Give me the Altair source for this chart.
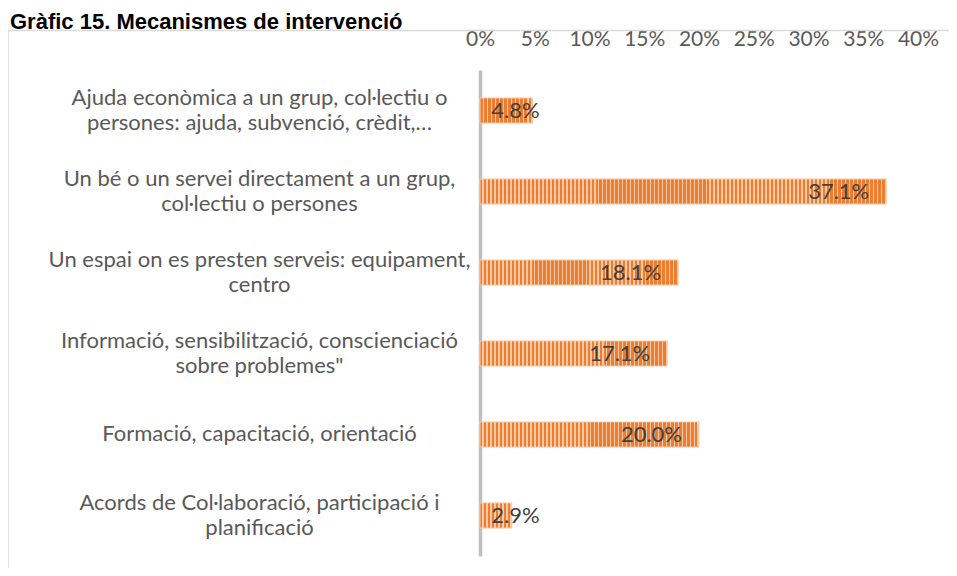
import altair as alt
import pandas as pd

categories = [
    "Ajuda econòmica a un grup, col·lectiu o|persones: ajuda, subvenció, crèdit,…",
    "Un bé o un servei directament a un grup,|col·lectiu o persones",
    "Un espai on es presten serveis: equipament,|centro",
    "Informació, sensibilització, conscienciació|sobre problemes\"",
    "Formació, capacitació, orientació",
    "Acords de Col·laboració, participació i|planificació",
]
values = [4.8, 37.1, 18.1, 17.1, 20.0, 2.9]
tick_values = [0, 5, 10, 15, 20, 25, 30, 35, 40]
title_text = "Gràfic 15. Mecanismes de intervenció"

df = pd.DataFrame({"cat": categories, "v": values})

FONT = "Lato"
PLOT_W = 438
X_MAX = 40
DARK = "#ED7D31"
LIGHT = "#F8C9A2"

x_scale = alt.Scale(domain=[0, X_MAX], nice=False, zero=True)
x_enc = alt.X(
    "v:Q",
    scale=x_scale,
    axis=alt.Axis(
        orient="top",
        title=None,
        values=tick_values,
        labelExpr="datum.value + '%'",
        labelFont=FONT,
        labelFontSize=21,
        labelColor="#595959",
        labelPadding=21,
        labelOverlap=False,
        labelFlush=False,
        domain=False,
        ticks=False,
        grid=False,
    ),
)
y_enc = alt.Y(
    "cat:N",
    sort=categories,
    scale=alt.Scale(paddingInner=0.69, paddingOuter=0.345),
    axis=alt.Axis(
        title=None,
        labelExpr="split(datum.label, '|')",
        labelAlign="center",
        labelBaseline={
            "condition": {"test": "indexof(datum.label, '|') < 0", "value": "line-top"},
            "value": "middle",
        },
        labelPadding=221,
        labelOffset=-12.5,
        labelLimit=0,
        labelFont=FONT,
        labelFontSize=22,
        labelColor="#595959",
        labelLineHeight=25,
        ticks=False,
        domainColor="#BFBFBF",
        domainWidth=3.5,
        grid=False,
    ),
)


def stripes(v):
    """Vertical stripe pattern (about 4px period) for a bar of value v."""
    width_px = v / X_MAX * PLOT_W
    n = max(1, int(round(width_px / 4.0)))
    p = 1.0 / n
    stops = []
    for k in range(n):
        s = k * p
        m = s + 0.62 * p
        e = s + p
        stops += [
            alt.GradientStop(offset=round(s, 6), color=DARK),
            alt.GradientStop(offset=round(m, 6), color=DARK),
            alt.GradientStop(offset=round(m, 6), color=LIGHT),
            alt.GradientStop(offset=round(min(e, 1.0), 6), color=LIGHT),
        ]
    return alt.LinearGradient(gradient="linear", stops=stops, x1=0, x2=1, y1=0, y2=0)


base = alt.Chart(df)

bar_layers = [
    base.transform_filter(alt.datum.cat == c)
    .mark_bar(fill=stripes(v), stroke="#F8CBAD", strokeWidth=1)
    .encode(x=x_enc, y=y_enc)
    for c, v in zip(categories, values)
]

labels = base.transform_calculate(
    lx="max(datum.v, 7.0)",
    lbl="format(datum.v, '.1f') + '%'",
).mark_text(
    align="right", baseline="middle", dx=-17, font=FONT, fontSize=22, color="#404040"
).encode(
    x=alt.X("lx:Q", scale=x_scale),
    y=alt.Y("cat:N", sort=categories),
    text="lbl:N",
)

frame = alt.Chart(pd.DataFrame({"a": [0]})).mark_rect(
    fillOpacity=0, stroke="#D9D9D9", strokeWidth=1.5
).encode(
    x=alt.value(-472),
    x2=alt.value(600),
    y=alt.value(-39.5),
    y2=alt.value(700),
)

chart = alt.layer(frame, *bar_layers, labels).properties(
    width=PLOT_W,
    height=486,
    background="#FFFFFF",
    title=alt.TitleParams(
        title_text,
        anchor="start",
        frame="group",
        font="Liberation Sans",
        fontSize=22,
        fontWeight="bold",
        color="#000000",
        dx=-470,
        dy=7,
        offset=1,
    ),
    autosize=alt.AutoSizeParams(type="none"),
    padding={"left": 472, "top": 62, "right": 31, "bottom": 12},
).configure_view(strokeWidth=0, stroke="transparent")

chart.save("out.html", embed_options={"renderer": "svg", "actions": False})
